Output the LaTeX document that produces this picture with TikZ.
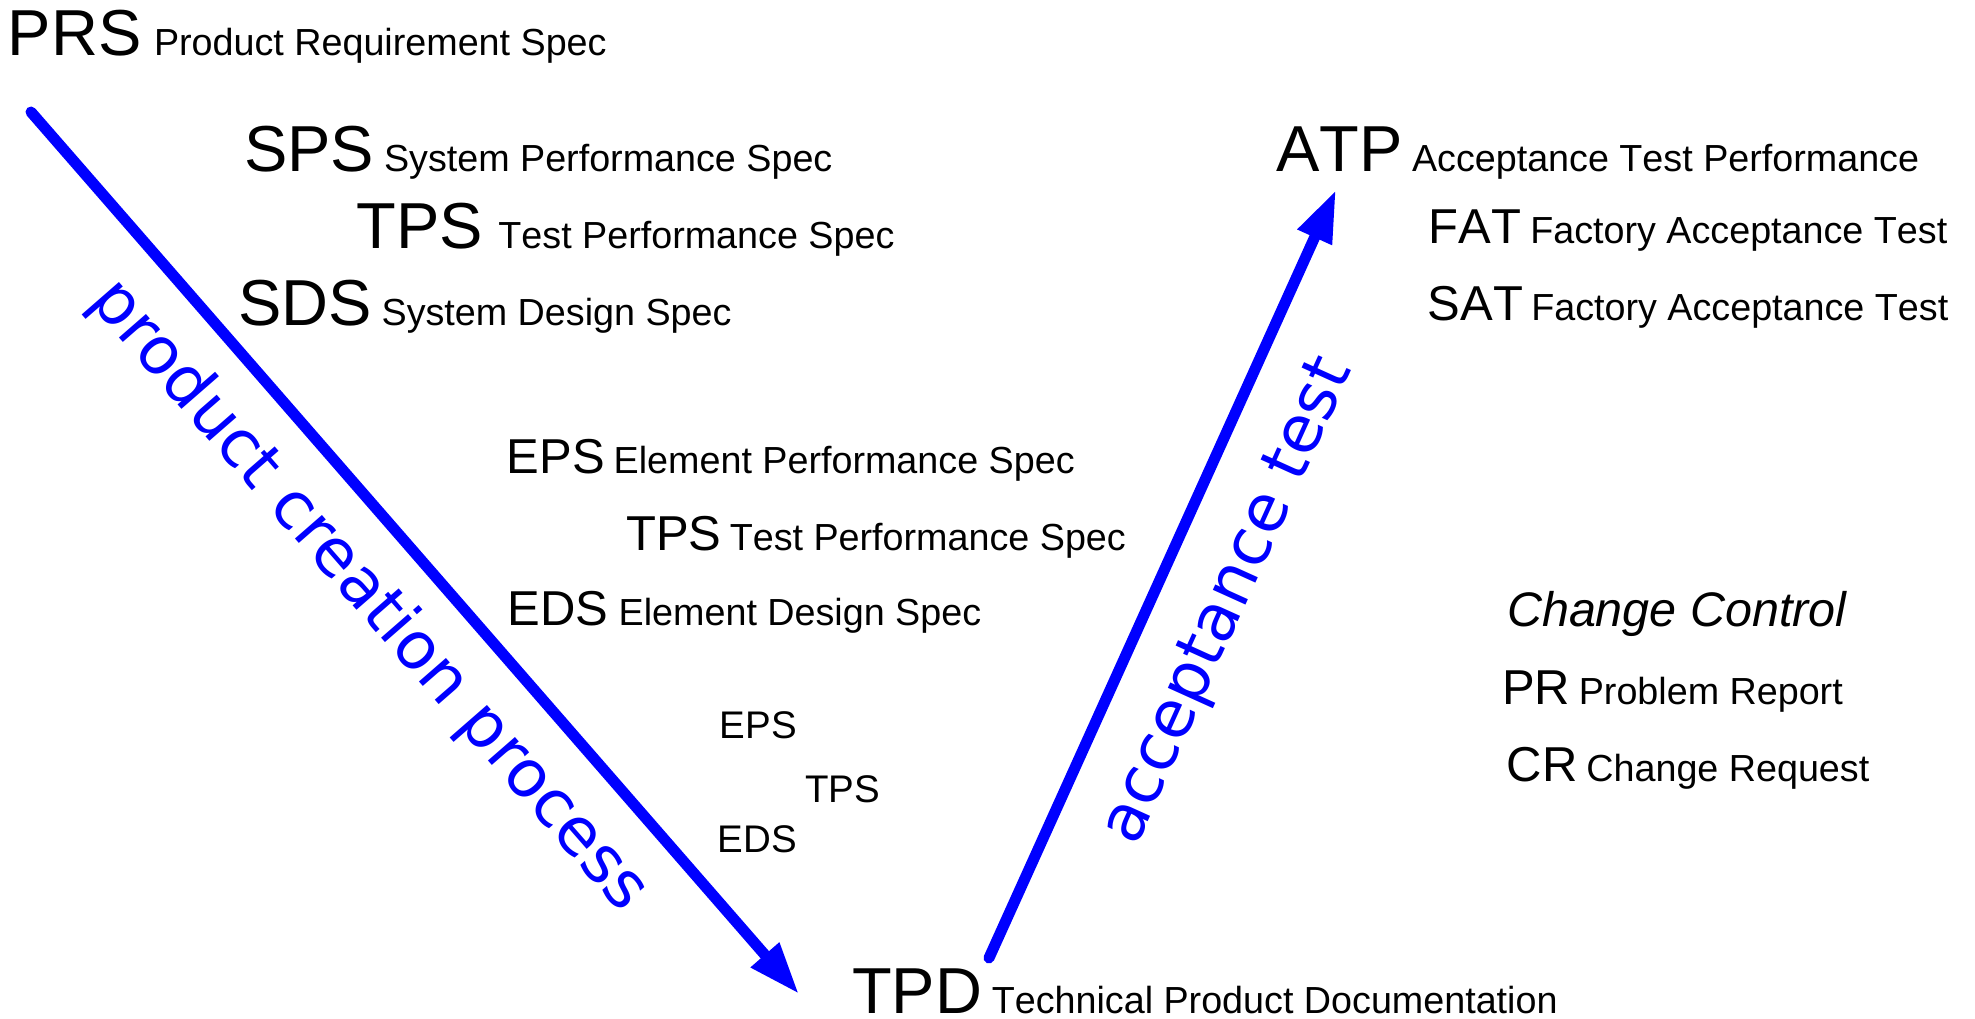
\documentclass[tikz,border=0pt]{standalone}
\usepackage{fontspec}
\setmainfont{Liberation Sans}[Kerning=Off]
\newfontfamily\bluefont{DejaVu Sans}
\usetikzlibrary{arrows.meta}
\begin{document}
\begin{tikzpicture}[x=1pt,y=-1pt,
  every node/.style={inner sep=0pt, outer sep=0pt, anchor=base west},
  big/.style={font=\fontsize{65}{72}\selectfont},
  mid/.style={font=\fontsize{49}{55}\selectfont},
  sub/.style={font=\fontsize{37.7}{44}\selectfont},
  small/.style={font=\fontsize{38.5}{44}\selectfont},
  ital/.style={font=\fontsize{48.5}{54}\selectfont\itshape},
  vtext/.style={font=\bluefont\fontsize{65.5}{72}\selectfont, text=blue, anchor=base},
  varrow/.style={draw=blue, line width=11pt, line cap=round, -{Triangle[length=52pt,width=35pt]}}
]
\useasboundingbox (0,0) rectangle (1975,1019);
% left branch
\node[big] (prs) at (8,56) {PRS};
\node[sub] (prsT) at (154,56) {Product Requirement Spec};
\node[big] (sps) at (244,172) {SPS};
\node[sub] (spsT) at (384,172) {System Performance Spec};
\node[big] (tps1) at (356.8,248) {TPS};
\node[sub] (tps1T) at (498.4,248) {Test Performance Spec};
\node[big] (sds) at (238,325) {SDS};
\node[sub] (sdsT) at (381.6,325) {System Design Spec};
\node[mid] (eps) at (506.8,473) {EPS};
\node[sub] (epsT) at (613.7,473) {Element Performance Spec};
\node[mid] (tps2) at (626.2,550) {TPS};
\node[sub] (tps2T) at (729.8,550) {Test Performance Spec};
\node[mid] (eds) at (507.6,625) {EDS};
\node[sub] (edsT) at (618.7,625) {Element Design Spec};
\node[small] (eps3) at (719.7,738) {EPS};
\node[small] (tps3) at (805,802) {TPS};
\node[small] (eds3) at (717.7,852) {EDS};
\node[big] (tpd) at (852,1013) {TPD};
\node[sub] (tpdT) at (991.8,1013) {Technical Product Documentation};
% right branch
\node[big] (atp) at (1276,172) {ATP};
\node[sub] (atpT) at (1412,172) {Acceptance Test Performance};
\node[mid] (fat) at (1428.8,243) {FAT};
\node[sub] (fatT) at (1530.3,243) {Factory Acceptance Test};
\node[mid] (sat) at (1427.7,320) {SAT};
\node[sub] (satT) at (1531.3,320) {Factory Acceptance Test};
\node[ital] (cc) at (1507,626) {Change Control};
\node[mid] (pr) at (1502,704) {PR};
\node[sub] (prT) at (1578.8,704) {Problem Report};
\node[mid] (cr) at (1506.9,781) {CR};
\node[sub] (crT) at (1586.4,781) {Change Request};
% arrows
\coordinate (s1) at (31,112);
\coordinate (t1) at (799,994);
\coordinate (s2) at (989,958);
\coordinate (t2) at (1336,190);
\draw[varrow] (s1) -- (t1);
\draw[varrow] (s2) -- (t2);
\node[vtext, rotate=-48.94] (pcp) at (355.2,608.2) {product creation process};
\node[vtext, rotate=65.68] (acct) at (1244,608.4) {acceptance test};
\end{tikzpicture}
\end{document}
